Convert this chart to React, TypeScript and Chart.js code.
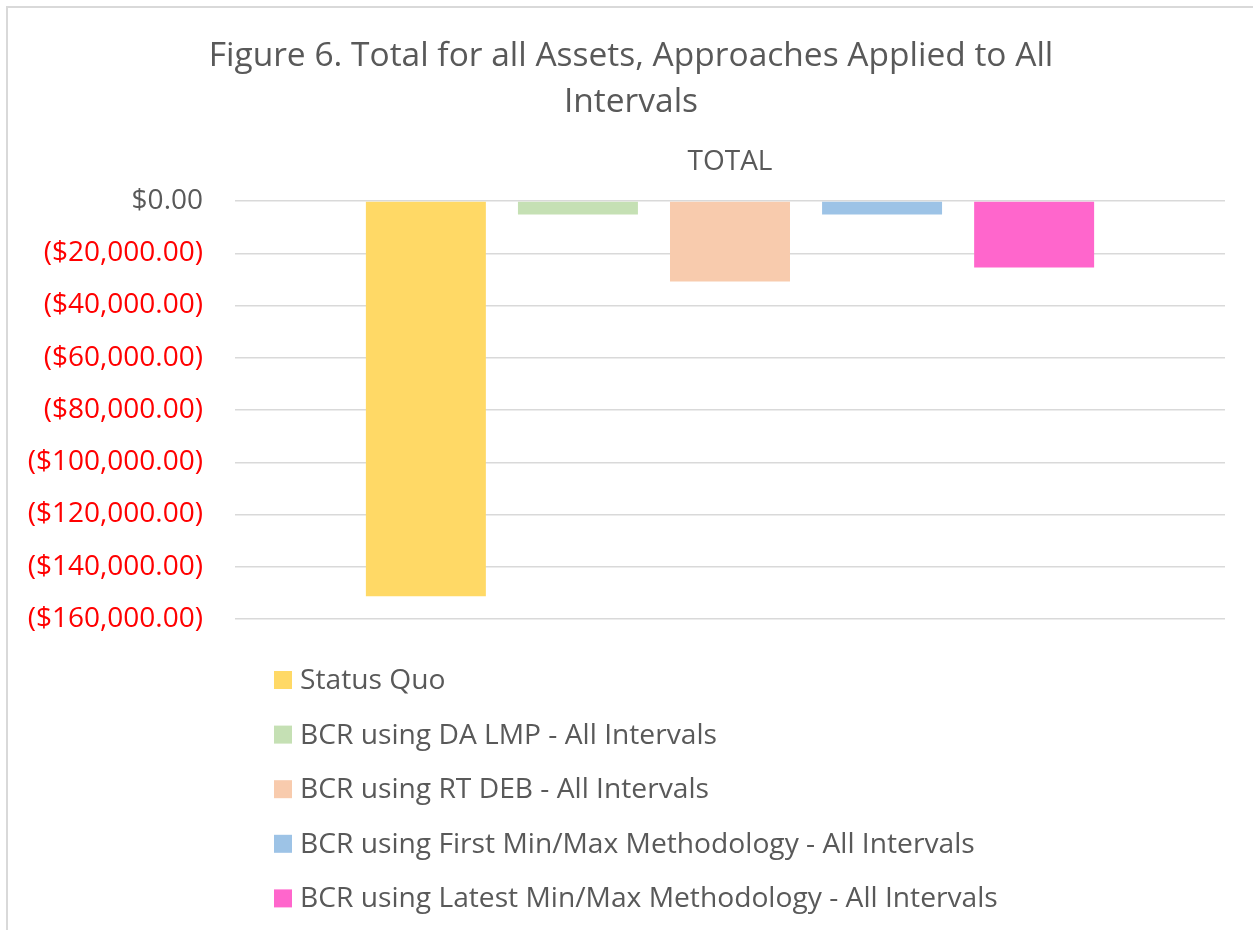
import React, { useEffect, useRef } from "react";
import { Chart, registerables } from "chart.js";

Chart.register(...registerables);

const titleLines = ["Figure 6. Total for all Assets, Approaches Applied to All", "Intervals"];
const categories = ["TOTAL"];
const seriesNames = [
  "Status Quo",
  "BCR using DA LMP - All Intervals",
  "BCR using RT DEB - All Intervals",
  "BCR using First Min/Max Methodology - All Intervals",
  "BCR using Latest Min/Max Methodology - All Intervals",
];
const seriesValues = [-151300, -5200, -30800, -5200, -25500];
const seriesColors = ["#FFD966", "#C5E0B4", "#F8CBAD", "#9DC3E6", "#FF66CC"];
const yMin = -160000;
const yMax = 0;
const yStep = 20000;

const FONT = '"Open Sans", "Noto Sans", sans-serif';
const GRAY = "#595959";

function fmtMoney(v: number): string {
  const s = "$" + Math.abs(v).toLocaleString("en-US", { minimumFractionDigits: 2, maximumFractionDigits: 2 });
  return v < 0 ? "(" + s + ")" : s;
}

const framePlugin = {
  id: "frame",
  beforeDraw(chart: any) {
    const ctx = chart.ctx;
    ctx.save();
    ctx.fillStyle = "#ffffff";
    ctx.fillRect(0, 0, chart.width, chart.height);
    ctx.strokeStyle = "#d9d9d9";
    ctx.lineWidth = 2;
    ctx.beginPath();
    ctx.moveTo(7, chart.height);
    ctx.lineTo(7, 7);
    ctx.lineTo(chart.width, 7);
    ctx.stroke();
    ctx.restore();
  },
};

const listLegendPlugin = {
  id: "listLegend",
  afterDraw(chart: any) {
    const { ctx, chartArea } = chart;
    ctx.save();
    ctx.font = "28.2px " + FONT;
    ctx.textBaseline = "middle";
    ctx.textAlign = "left";
    chart.data.datasets.forEach((ds: any, i: number) => {
      const y = chartArea.bottom + 61 + i * 54.6;
      const x = chartArea.left + 39;
      ctx.fillStyle = ds.backgroundColor;
      ctx.fillRect(x, y - 9, 18, 18);
      ctx.fillStyle = GRAY;
      ctx.fillText(ds.label, x + 26, y + 1);
    });
    ctx.restore();
  },
};

export default function App() {
  const canvasRef = useRef<HTMLCanvasElement | null>(null);

  useEffect(() => {
    if (!canvasRef.current) return;
    const chart = new Chart(canvasRef.current, {
      type: "bar",
      data: {
        labels: categories,
        datasets: seriesNames.map((name, i) => ({
          label: name,
          data: [seriesValues[i]],
          backgroundColor: seriesColors[i],
          borderWidth: 0,
          categoryPercentage: 0.768,
          barPercentage: 0.789,
        })),
      },
      options: {
        animation: false,
        responsive: true,
        maintainAspectRatio: false,
        layout: { padding: { top: 33, left: 10, right: 1, bottom: 311 } },
        plugins: {
          legend: { display: false },
          tooltip: { enabled: false },
          title: {
            display: true,
            text: titleLines,
            color: GRAY,
            font: { family: FONT, size: 33.5, weight: "normal", lineHeight: 46 / 33.5 },
            padding: { top: 0, bottom: 0 },
          },
        },
        scales: {
          x: {
            position: "top",
            grid: { display: false },
            border: { display: false },
            ticks: { color: GRAY, font: { family: FONT, size: 28 }, padding: 14 },
            afterFit: (scale: any) => {
              scale.height = 76;
            },
          },
          y: {
            min: yMin,
            max: yMax,
            grid: { color: "#d9d9d9", lineWidth: 1.5, drawTicks: false },
            border: { display: false },
            ticks: {
              stepSize: yStep,
              padding: 32,
              font: { family: FONT, size: 28 },
              color: (ctx: any) => (ctx.tick && ctx.tick.value < 0 ? "#FF0000" : GRAY),
              callback: (v: any) => fmtMoney(Number(v)),
            },
            afterFit: (scale: any) => {
              scale.width = 225;
            },
          },
          yRightSpace: {
            type: "linear",
            position: "right",
            min: yMin,
            max: yMax,
            grid: { display: false, drawTicks: false },
            border: { display: false },
            ticks: { display: false },
            afterFit: (scale: any) => {
              scale.width = 27;
            },
          },
        },
      },
      plugins: [framePlugin, listLegendPlugin],
    });
    return () => chart.destroy();
  }, []);

  return (
    <div style={{ position: "fixed", left: 0, top: 0, width: 1253, height: 930 }}>
      <canvas ref={canvasRef} />
    </div>
  );
}
